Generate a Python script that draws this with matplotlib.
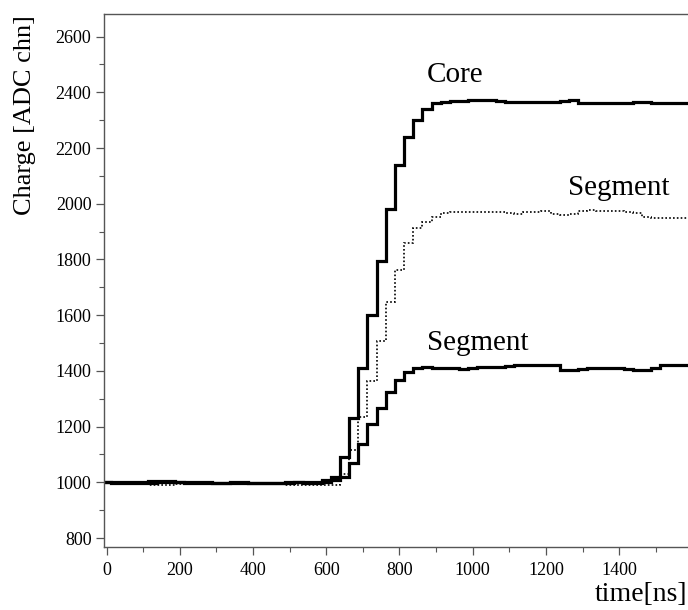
import numpy as np
import matplotlib
matplotlib.use("Agg")
from matplotlib import pyplot as plt
from matplotlib.ticker import MultipleLocator

plt.rcParams['font.family'] = ['Liberation Serif', 'DejaVu Serif']

# sample times [ns], 25 ns bins
t = np.arange(0, 1600, 25)

core = [1000, 1000, 1001, 1000, 1002, 1004, 1005, 1004, 1002, 1000, 1000, 1001,
        999, 998, 997, 997, 996, 996, 997, 997, 999, 1000, 1001, 1003,
        1008, 1019, 1092, 1231, 1410, 1601, 1796, 1981, 2139, 2241, 2301, 2341,
        2362, 2366, 2368, 2370, 2372, 2374, 2372, 2368, 2366, 2366, 2366, 2365,
        2365, 2364, 2370, 2372, 2362, 2360, 2360, 2360, 2361, 2362, 2366, 2364,
        2360, 2362, 2363, 2362]

seg_dot = [998, 997, 996, 995, 994, 991, 990, 991, 993, 995, 996, 995,
           994, 994, 995, 996, 996, 995, 994, 993, 992, 990, 989, 989,
           990, 991, 1030, 1116, 1236, 1362, 1508, 1648, 1762, 1859, 1913, 1936,
           1954, 1966, 1970, 1972, 1972, 1971, 1972, 1972, 1966, 1964, 1970, 1972,
           1973, 1964, 1961, 1963, 1974, 1976, 1975, 1974, 1973, 1970, 1966, 1952,
           1950, 1950, 1950, 1950]

seg_low = [1000, 999, 999, 998, 998, 999, 1000, 1001, 1000, 999, 998, 997,
           998, 999, 1000, 1000, 999, 998, 998, 999, 1000, 1000, 999, 999,
           1000, 1008, 1020, 1069, 1137, 1208, 1266, 1323, 1367, 1395, 1409, 1414,
           1412, 1410, 1409, 1408, 1412, 1414, 1415, 1415, 1416, 1420, 1421, 1422,
           1423, 1420, 1405, 1403, 1408, 1409, 1410, 1410, 1410, 1408, 1405, 1404,
           1412, 1420, 1421, 1421]

edges = np.append(t - 12.5, t[-1] + 12.5)

fig = plt.figure(figsize=(6.88, 6.10), dpi=100)
ax = fig.add_axes([104/688, 63/610, 1 - 104/688, 533/610])

ax.stairs(seg_dot, edges, color='black', lw=1.2, linestyle=(0, (1, 1.3)), baseline=None)
ax.stairs(seg_low, edges, color='black', lw=2.3, baseline=None)
ax.stairs(core, edges, color='black', lw=2.3, baseline=None)

ax.set_xlim(-7, 1588)
ax.set_ylim(768, 2681)

ax.xaxis.set_major_locator(MultipleLocator(200))
ax.xaxis.set_minor_locator(MultipleLocator(100))
ax.yaxis.set_major_locator(MultipleLocator(200))
ax.yaxis.set_minor_locator(MultipleLocator(100))

for s in ['left', 'bottom', 'top']:
    ax.spines[s].set_color('#555555')
    ax.spines[s].set_linewidth(1.0)
ax.spines['right'].set_visible(False)

ax.tick_params(which='major', direction='out', length=6, width=0.9,
               color='#555555', labelsize=13, pad=3)
ax.tick_params(which='minor', direction='out', length=3.5, width=0.8, color='#555555')
ax.tick_params(axis='x', which='major', pad=5)

ax.text(875, 2462, 'Core', fontsize=21, va='center', ha='left')
ax.text(1260, 2057, 'Segment', fontsize=21, va='center', ha='left')
ax.text(875, 1500, 'Segment', fontsize=21, va='center', ha='left')

fig.text(25/688, 1 - 115/610, 'Charge [ADC chn]', fontsize=19, rotation=90,
         ha='center', va='center')
fig.text(687/688, 3/610, 'time[ns]', fontsize=20, ha='right', va='bottom')

fig.savefig('out.png', dpi=100)
